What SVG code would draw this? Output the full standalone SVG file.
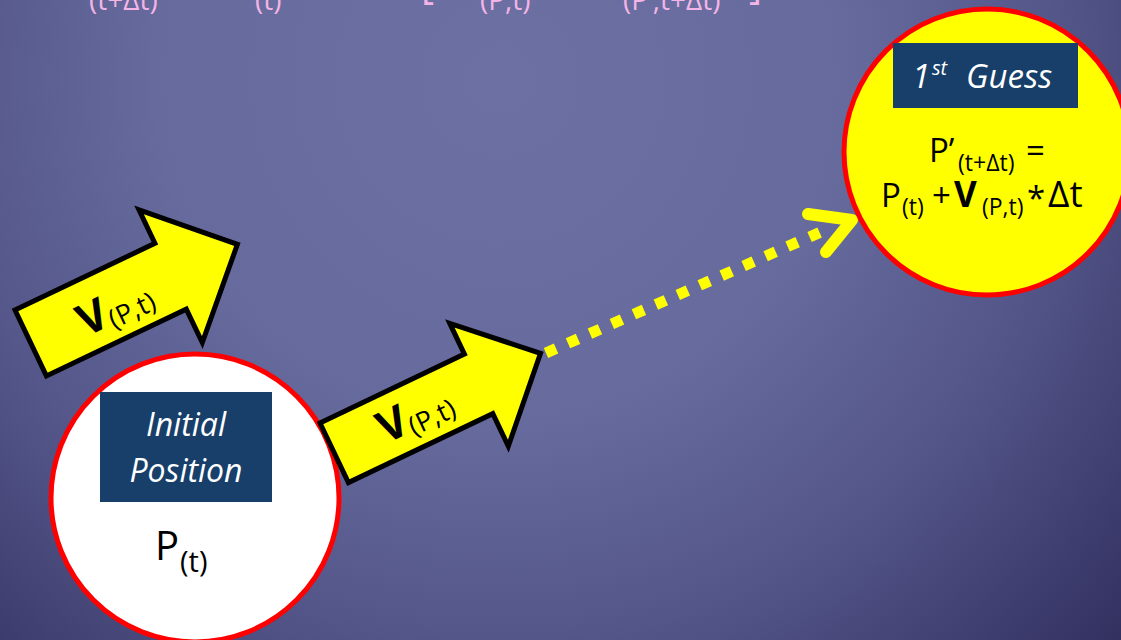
<svg xmlns="http://www.w3.org/2000/svg" width="1121" height="640" viewBox="0 0 1121 640">
<defs>
<radialGradient id="bg" gradientUnits="userSpaceOnUse" cx="500" cy="80" r="860">
<stop offset="0" stop-color="#6c70a2"/>
<stop offset="0.4" stop-color="#666a9c"/>
<stop offset="0.64" stop-color="#55578a"/>
<stop offset="0.87" stop-color="#3d3c6e"/>
<stop offset="1" stop-color="#2e2d5b"/>
</radialGradient>
<style>
.f{font-family:"Open Sans","Liberation Sans",sans-serif;}
.pink{fill:#f4b4e6;}
.lab{fill:#173f6a;}
.wt{fill:#ffffff;font-style:italic;}
.k{fill:#000000;}
.blk{fill:#ffff00;stroke:#000000;stroke-width:5;stroke-linejoin:miter;}
.ring{stroke:#ff0000;stroke-width:5;}
</style>
</defs>
<rect x="0" y="0" width="1121" height="640" fill="url(#bg)"/>

<g id="top-formula" class="f pink">
<text x="89" y="10" font-size="28">(t+Δt)</text>
<text x="255" y="10" font-size="28">(t)</text>
<text x="421" y="-1" font-size="40">[</text>
<text x="480" y="10" font-size="28">(P,t)</text>
<text x="623" y="10" font-size="28">(P’,t+Δt)</text>
<text x="749" y="-1" font-size="40">]</text>
</g>

<g id="connectors">
<line x1="546" y1="353" x2="823" y2="231" stroke="#ffff00" stroke-width="11" stroke-dasharray="11 13"/>
<polyline points="808,214 852,220 826,252" fill="none" stroke="#ffff00" stroke-width="12" stroke-linecap="round" stroke-linejoin="round"/>
</g>

<g id="first-guess">
<circle cx="987" cy="152" r="143" fill="#ffff00" class="ring"/>
<rect x="893" y="43" width="185" height="65" class="lab"/>
<text class="f wt" y="88" font-size="33"><tspan x="912">1</tspan><tspan x="932" y="75" font-size="20">st</tspan><tspan x="966" y="88">Guess</tspan></text>
<text class="f k" font-size="33"><tspan x="929" y="162">P’</tspan><tspan x="958" y="171" font-size="23">(t+Δt)</tspan><tspan x="1026" y="162">=</tspan></text>
<text class="f k" font-size="33"><tspan x="881" y="207">P</tspan><tspan x="902" y="215" font-size="23">(t)</tspan><tspan x="932" y="207">+</tspan><tspan x="954" y="207" font-weight="bold" font-size="35">V</tspan><tspan x="982" y="215" font-size="23">(P,t)</tspan><tspan x="1027" y="210">*</tspan><tspan x="1048" y="207" font-size="37">Δt</tspan></text>
</g>

<g id="initial-position">
<circle cx="195" cy="498" r="144" fill="#ffffff" class="ring"/>
<rect x="100" y="392" width="172" height="110" class="lab"/>
<text class="f wt" font-size="32" text-anchor="middle"><tspan x="186" y="436">Initial</tspan><tspan x="186" y="482">Position</tspan></text>
<text class="f k"><tspan x="155" y="560" font-size="40">P</tspan><tspan x="180" y="572" font-size="29">(t)</tspan></text>
</g>

<g id="velocity-arrow-1">
<polygon class="blk" points="15,310 154.9,243.3 139,209.9 237.4,244.3 202.3,342.6 186.3,309.2 46.4,375.9"/>
<text class="f k" transform="translate(86,337) rotate(-25.5)"><tspan font-size="44" font-weight="bold">V</tspan><tspan font-size="27" dy="5">(P,t)</tspan></text>
</g>

<g id="velocity-arrow-2">
<polygon class="blk" points="320,423 464.4,354.1 449.8,323.4 540.5,353.3 508.3,446.2 492.8,413.7 348.4,482.6"/>
<text class="f k" transform="translate(386,444) rotate(-25.5)"><tspan font-size="44" font-weight="bold">V</tspan><tspan font-size="27" dy="5">(P,t)</tspan></text>
</g>
</svg>
